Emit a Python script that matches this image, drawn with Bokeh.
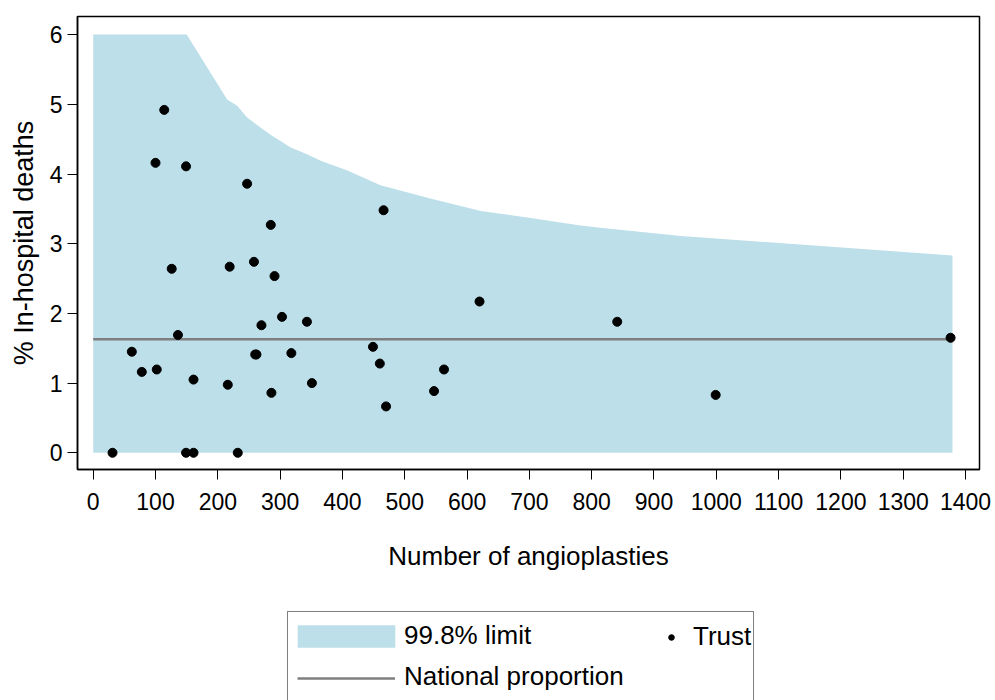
from bokeh.plotting import figure
from bokeh.models import Range1d, Legend, LegendItem, FixedTicker
from bokeh.core.properties import value
from bokeh.layouts import column
from bokeh.embed import file_html
from bokeh.resources import INLINE

# Trust data: number of angioplasties vs % in-hospital deaths
trust_n = [31, 62, 78, 100, 102, 114, 126, 136, 149, 149, 161, 161, 216, 219, 232,
           247, 258, 260, 262, 270, 285, 286, 291, 303, 318, 343, 351, 449, 460, 466,
           470, 547, 563, 620, 841, 999, 1376]
trust_pct = [0.0, 1.45, 1.16, 4.16, 1.195, 4.92, 2.64, 1.69, 4.11, 0.0, 1.05, 0.0, 0.976, 2.67, 0.0,
             3.86, 2.74, 1.41, 1.41, 1.83, 3.27, 0.86, 2.535, 1.95, 1.43, 1.88, 1.0, 1.52, 1.28, 3.48,
             0.665, 0.885, 1.195, 2.17, 1.88, 0.83, 1.65]

# 99.8% control limit (upper), lower bound at 0
limit_n = [0, 150, 215, 231, 247, 268, 287, 317, 343, 365, 408, 461, 541, 622, 702, 782, 814, 943, 1379]
limit_upper = [6.0, 6.0, 5.07, 4.98, 4.81, 4.67, 4.55, 4.38, 4.285, 4.19, 4.05, 3.84, 3.65, 3.47, 3.37, 3.26, 3.23, 3.11, 2.83]
limit_lower = [0.0] * len(limit_n)

# National proportion
national_n = [0, 1379]
national_pct = [1.63, 1.63]

x_ticks = list(range(0, 1401, 100))
y_ticks = [0, 1, 2, 3, 4, 5, 6]

FONT = "Liberation Sans"
FILL = "#bddfe9"
NAT_COLOR = "#7f7f7f"
W = 993

p = figure(width=W, height=600,
           x_range=Range1d(-25.2, 1422.4), y_range=Range1d(-0.24, 6.26),
           output_backend="svg", toolbar_location=None,
           min_border_left=77, min_border_right=W - 979, min_border_top=16, min_border_bottom=131)

p.background_fill_color = "white"
p.border_fill_color = "white"
p.outline_line_color = "black"
p.outline_line_width = 1.5
p.grid.visible = False

area = p.varea(x=limit_n, y1=limit_lower, y2=limit_upper, fill_color=FILL, fill_alpha=1.0)
nat = p.line(x=national_n, y=national_pct, line_color=NAT_COLOR, line_width=2.5)
pts = p.scatter(x=trust_n, y=trust_pct, size=9, fill_color="black", line_color="black")

for ax in (p.xaxis[0], p.yaxis[0]):
    ax.axis_line_color = "black"
    ax.axis_line_width = 1.5
    ax.major_tick_line_color = "black"
    ax.major_tick_line_width = 1
    ax.major_tick_in = 0
    ax.major_tick_out = 10
    ax.minor_tick_line_color = None
    ax.major_label_text_font = FONT
    ax.major_label_text_font_size = "23px"
    ax.major_label_text_color = "black"
    ax.axis_label_text_font = FONT
    ax.axis_label_text_font_style = "normal"
    ax.axis_label_text_color = "black"

p.xaxis[0].ticker = FixedTicker(ticks=x_ticks)
p.yaxis[0].ticker = FixedTicker(ticks=y_ticks)
p.xaxis[0].axis_label = "Number of angioplasties"
p.yaxis[0].axis_label = "% In-hospital deaths"
p.xaxis[0].axis_label_text_font_size = "26px"
p.yaxis[0].axis_label_text_font_size = "27px"
p.xaxis[0].major_label_standoff = 13
p.yaxis[0].major_label_standoff = 5
p.xaxis[0].axis_label_standoff = 28
p.yaxis[0].axis_label_standoff = 8

# Legend panel below the chart (its renderers reuse the series but sit outside its view)
lf = figure(width=W, height=100, x_range=Range1d(0, 1), y_range=Range1d(-100, -99),
            output_backend="svg", toolbar_location=None,
            x_axis_type=None, y_axis_type=None,
            min_border_left=0, min_border_right=0, min_border_top=0, min_border_bottom=0)
lf.outline_line_color = None
lf.grid.visible = False
lf.background_fill_color = "white"
lf.border_fill_color = "white"

l_area = lf.varea(x=limit_n, y1=limit_lower, y2=limit_upper, fill_color=FILL, fill_alpha=1.0)
l_nat = lf.line(x=national_n, y=national_pct, line_color=NAT_COLOR, line_width=2.5)
l_pts = lf.scatter(x=trust_n, y=trust_pct, size=9, fill_color="black", line_color="black")
# label-only carriers for the bordered legend box
l_area_blank = lf.varea(x=limit_n, y1=limit_lower, y2=limit_upper, fill_alpha=0.0)
l_nat_blank = lf.line(x=national_n, y=national_pct, line_alpha=0.0)

leg_box = Legend(items=[LegendItem(label=value("99.8% limit"), renderers=[l_area_blank]),
                        LegendItem(label=value("National proportion"), renderers=[l_nat_blank])],
                 location=(210, -1), orientation="vertical",
                 glyph_width=98, glyph_height=22, label_standoff=10, label_width=341,
                 label_height=22, spacing=10, padding=8, margin=0,
                 label_text_font=FONT, label_text_font_size="26px", label_text_color="black",
                 border_line_color="black", border_line_width=1,
                 background_fill_color="white", background_fill_alpha=1.0)
leg_patch = Legend(items=[LegendItem(label=value(""), renderers=[l_area])],
                   location=(208, 50), orientation="vertical",
                   glyph_width=122, glyph_height=28, label_standoff=0, label_width=0,
                   label_height=10, spacing=0, padding=0, margin=0,
                   label_text_font_size="10px",
                   border_line_color=None, background_fill_alpha=0.0)
leg_line = Legend(items=[LegendItem(label=value(""), renderers=[l_nat])],
                  location=(220, 12), orientation="vertical",
                  glyph_width=98, glyph_height=20, label_standoff=0, label_width=0,
                  label_height=10, spacing=0, padding=0, margin=0,
                  label_text_font_size="10px",
                  border_line_color=None, background_fill_alpha=0.0)
leg_trust = Legend(items=[LegendItem(label=value("Trust"), renderers=[l_pts])],
                   location=(587, 48), orientation="vertical",
                   glyph_width=14, glyph_height=30, label_standoff=15,
                   spacing=0, padding=0, margin=0,
                   label_text_font=FONT, label_text_font_size="26px", label_text_color="black",
                   border_line_color=None, background_fill_alpha=0.0)
lf.add_layout(leg_box, "center")
lf.add_layout(leg_patch, "center")
lf.add_layout(leg_line, "center")
lf.add_layout(leg_trust, "center")

layout = column(p, lf, spacing=0)
open("out.html", "w").write(file_html(layout, INLINE))
